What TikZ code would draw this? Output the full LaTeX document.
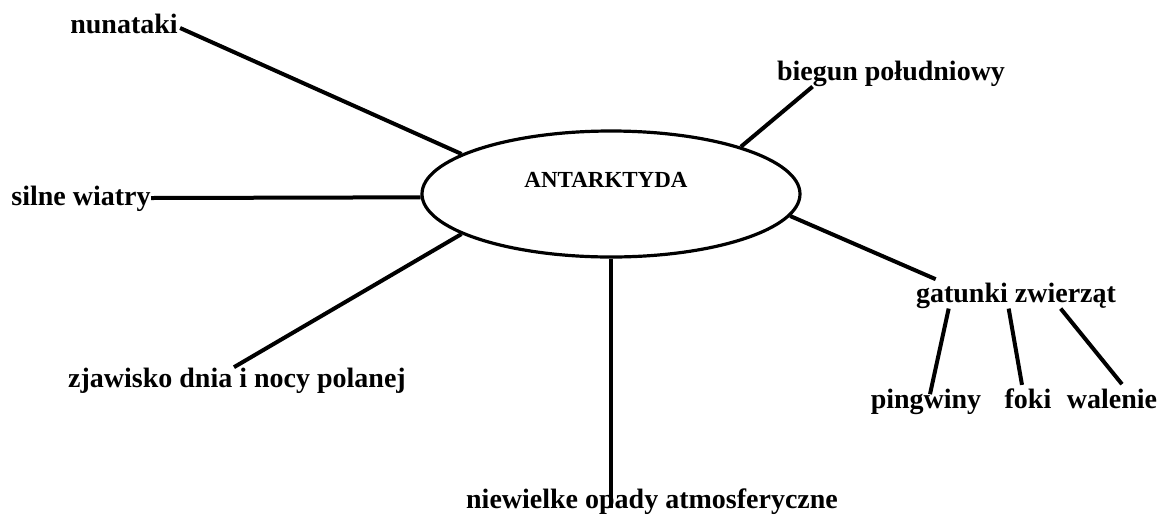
\documentclass[tikz,border=0pt]{standalone}
\usepackage{fontspec}
\setmainfont{Liberation Serif}
\usetikzlibrary{shapes.geometric,calc}
\begin{document}
\begin{tikzpicture}[x=0.5pt,y=-0.5pt,
  lbl/.style={font=\fontsize{14}{16}\selectfont\bfseries, inner sep=0pt, anchor=base},
  conn/.style={line width=2pt},
  hub/.style={ellipse, draw, line width=1.6pt, minimum width=189pt, minimum height=63pt, inner sep=0pt}]
\useasboundingbox (0,0) rectangle (1168,521);
\node[hub] (ant) at (611,194) {};
\node[font=\fontsize{11.5}{13}\selectfont\bfseries, inner sep=0pt, anchor=base] (antt) at (606,187) {ANTARKTYDA};
\node[lbl] (nun) at (124,33) {nunataki};
\node[lbl] (sil) at (81,205) {silne wiatry};
\node[lbl] (zja) at (237,387) {zjawisko dnia i nocy polanej};
\node[lbl] (nie) at (652,508) {niewielke opady atmosferyczne};
\node[lbl] (bie) at (891,80) {biegun południowy};
\node[lbl] (gat) at (1016,302) {gatunki zwierząt};
\node[lbl] (pin) at (926,408) {pingwiny};
\node[lbl] (fok) at (1028,408) {foki};
\node[lbl] (wal) at (1112,408) {walenie};
\draw[conn] ($(nun.base east)+(2,-5)$) -- (ant.165);
\draw[conn] ($(sil.base east)+(0,-7)$) -- (ant.181);
\draw[conn] ($(zja.north)+(-3,0)$) -- (ant.195);
\draw[conn] (ant.270) -- (ant.270 |- nie.base);
\draw[conn] ($(bie.south west)+(36,0)$) -- (ant.20);
\draw[conn] ($(gat.north west)+(20,-3)$) -- (ant.353);
\draw[conn] ($(gat.south west)+(33,0)$) -- ($(pin.north)+(4,6)$);
\draw[conn] ($(gat.south west)+(93,0)$) -- ($(fok.north)+(-6,-3)$);
\draw[conn] ($(gat.south west)+(145,0)$) -- ($(wal.north)+(10,-4)$);
\end{tikzpicture}
\end{document}
